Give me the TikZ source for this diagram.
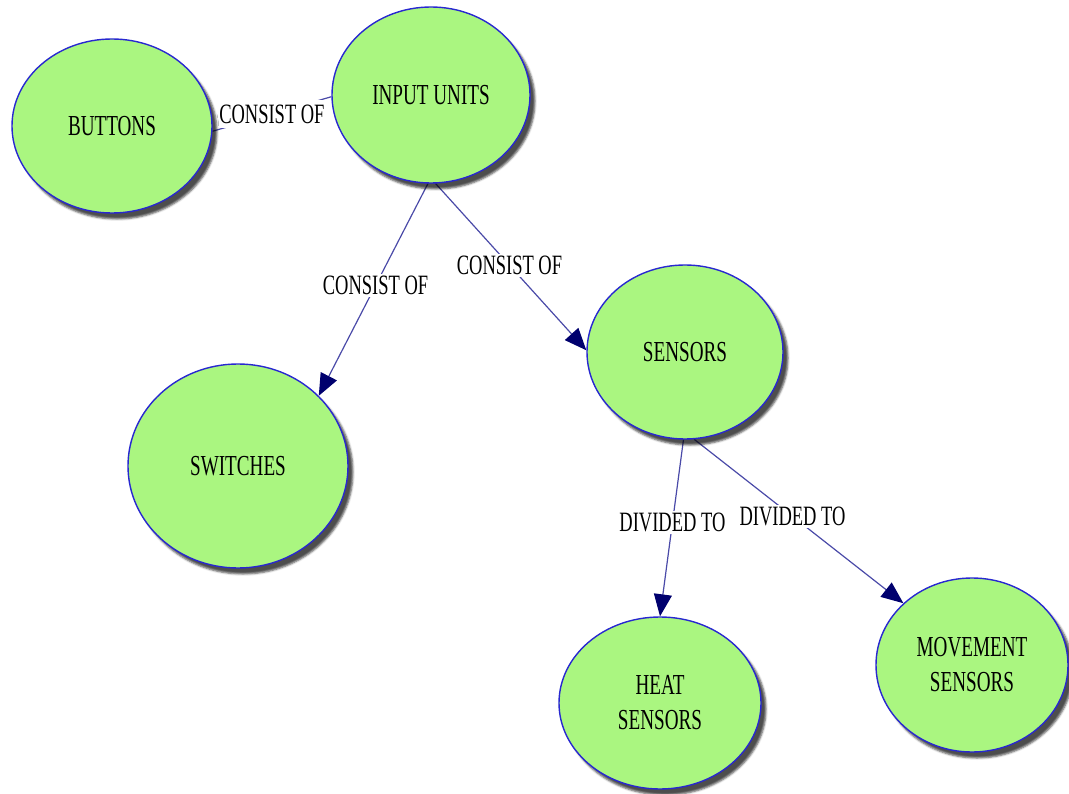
\documentclass[tikz,border=0pt]{standalone}
\usepackage{fontspec}
\setmainfont[FakeStretch=0.66]{Liberation Serif}
\usetikzlibrary{shapes.geometric,arrows.meta,shadows.blur,backgrounds}

\definecolor{bubblefill}{HTML}{AAF680}
\definecolor{bubbleedge}{HTML}{2828D0}
\definecolor{linkline}{HTML}{4A4AA8}
\definecolor{linktip}{HTML}{00006E}

\tikzset{
  bubble/.style={ellipse, draw=bubbleedge, line width=1.4pt, fill=bubblefill,
    inner sep=0pt, align=center,
    font=\fontsize{29}{35}\selectfont,
    blur shadow={shadow xshift=5pt, shadow yshift=-6pt, shadow blur steps=4,
      shadow blur radius=2pt, shadow opacity=70}},
  link/.style={draw=linkline, line width=1.2pt},
  arrowlink/.style={link,
    -{Triangle[length=22pt,width=18pt,fill=linktip,color=linktip]}},
  linklabel/.style={fill=white, inner sep=2pt, font=\fontsize{28}{30}\selectfont}
}

\begin{document}
\begin{tikzpicture}[x=1pt,y=-1pt]
  \useasboundingbox (0,0) rectangle (1069,794);

  % concepts
  \node[bubble, minimum width=200pt, minimum height=174pt] (buttons)  at (112,126) {BUTTONS};
  \node[bubble, minimum width=198pt, minimum height=176pt] (input)    at (431,95)  {INPUT UNITS};
  \node[bubble, minimum width=220pt, minimum height=204pt] (switches) at (238,466) {SWITCHES};
  \node[bubble, minimum width=196pt, minimum height=174pt] (sensors)  at (685,352) {SENSORS};
  \node[bubble, minimum width=202pt, minimum height=172pt] (heat)     at (660,703) {HEAT\\SENSORS};
  \node[bubble, minimum width=192pt, minimum height=174pt] (movement) at (972,665) {MOVEMENT\\SENSORS};

  % relations, kept under the concepts so their shadows hide the line starts
  \begin{pgfonlayer}{background}
    \draw[link] (buttons.-3) -- node[linklabel, inner ysep=5pt] {CONSIST OF} (input.181);
    \draw[arrowlink] (input.-92.5) -- node[linklabel, pos=0.48] {CONSIST OF} (switches.41.6);
    \draw[arrowlink] (input.-87.5) -- node[linklabel, pos=0.49] {CONSIST OF} (sensors.179);
    \draw[arrowlink] (sensors.-91) -- node[linklabel, pos=0.47] {DIVIDED TO} (heat.90.7);
    \draw[arrowlink] (sensors.-84) -- node[linklabel, pos=0.47] {DIVIDED TO} (movement.138);
  \end{pgfonlayer}
\end{tikzpicture}
\end{document}
